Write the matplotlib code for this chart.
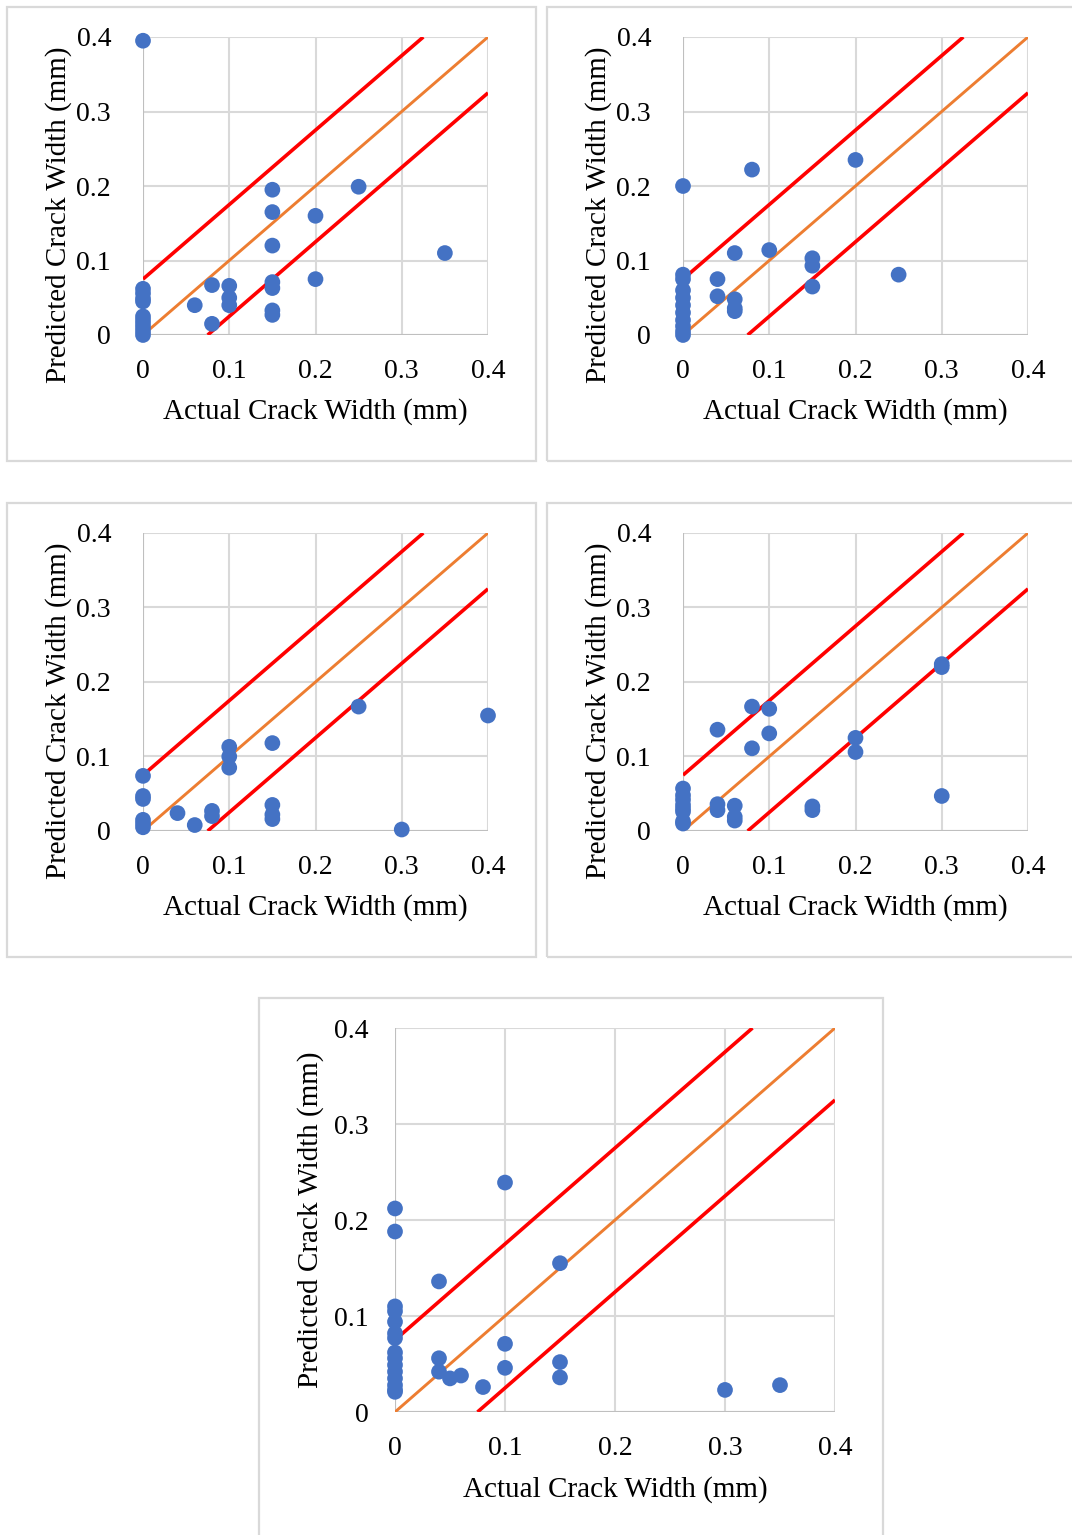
import matplotlib
matplotlib.use("Agg")
import matplotlib.pyplot as plt
from matplotlib.patches import Rectangle

plt.rcParams["font.family"] = ["Liberation Serif", "DejaVu Serif"]

# Actual vs predicted crack widths (mm) for five models
actual_1 = [0, 0, 0, 0, 0, 0, 0, 0, 0, 0, 0,
            0.06, 0.08, 0.08, 0.1, 0.1, 0.1,
            0.15, 0.15, 0.15, 0.15, 0.15, 0.15, 0.15,
            0.2, 0.2, 0.25, 0.35]
pred_1 = [0.395, 0.062, 0.056, 0.049, 0.045, 0.025, 0.02, 0.015, 0.01, 0.005, 0.0,
          0.040, 0.067, 0.015, 0.066, 0.050, 0.040,
          0.195, 0.165, 0.120, 0.071, 0.063, 0.033, 0.027,
          0.160, 0.075, 0.199, 0.110]

actual_2 = [0, 0, 0, 0, 0, 0, 0, 0, 0, 0, 0,
            0.04, 0.04, 0.06, 0.06, 0.06, 0.06,
            0.08, 0.1, 0.15, 0.15, 0.15, 0.2, 0.25]
pred_2 = [0.200, 0.081, 0.075, 0.060, 0.050, 0.040, 0.030, 0.020, 0.012, 0.005, 0.0,
          0.075, 0.052, 0.110, 0.048, 0.036, 0.032,
          0.222, 0.114, 0.103, 0.093, 0.065, 0.235, 0.081]

actual_3 = [0, 0, 0, 0, 0, 0,
            0.04, 0.06, 0.08, 0.08,
            0.1, 0.1, 0.1, 0.15, 0.15, 0.15, 0.15,
            0.25, 0.3, 0.4]
pred_3 = [0.074, 0.047, 0.043, 0.015, 0.010, 0.005,
          0.024, 0.008, 0.027, 0.020,
          0.113, 0.100, 0.085, 0.118, 0.035, 0.022, 0.016,
          0.167, 0.002, 0.155]

actual_4 = [0, 0, 0, 0, 0, 0, 0, 0,
            0.04, 0.04, 0.04, 0.06, 0.06, 0.06,
            0.08, 0.08, 0.1, 0.1, 0.15, 0.15,
            0.2, 0.2, 0.3, 0.3, 0.3]
pred_4 = [0.057, 0.048, 0.042, 0.035, 0.030, 0.026, 0.013, 0.010,
          0.136, 0.036, 0.028, 0.034, 0.019, 0.014,
          0.167, 0.111, 0.164, 0.131, 0.033, 0.028,
          0.125, 0.106, 0.224, 0.220, 0.047]

actual_5 = [0, 0, 0, 0, 0, 0, 0, 0, 0, 0, 0, 0, 0, 0, 0,
            0.04, 0.04, 0.04, 0.05, 0.06, 0.08,
            0.1, 0.1, 0.1, 0.15, 0.15, 0.15, 0.3, 0.35]
pred_5 = [0.212, 0.188, 0.110, 0.105, 0.094, 0.082, 0.077, 0.062, 0.056,
          0.049, 0.042, 0.035, 0.028, 0.023, 0.021,
          0.136, 0.056, 0.042, 0.035, 0.038, 0.026,
          0.239, 0.071, 0.046, 0.155, 0.052, 0.036, 0.023, 0.028]

ticks = [0, 0.1, 0.2, 0.3, 0.4]
tick_labels = ["0", "0.1", "0.2", "0.3", "0.4"]
band = 0.075  # +/- tolerance band around the line of equality

W, H = 1072, 1535
fig = plt.figure(figsize=(W / 100, H / 100), dpi=100)

BLUE = "#4472C4"
ORANGE = "#ED7D31"
RED = "#FF0000"
GRID = "#D9D9D9"


def frac(x0, y0, x1, y1):
    return [x0 / W, 1 - y1 / H, (x1 - x0) / W, (y1 - y0) / H]


def frame(x0, y0, x1, y1):
    fig.patches.append(Rectangle((x0 / W, 1 - y1 / H), (x1 - x0) / W, (y1 - y0) / H,
                                 transform=fig.transFigure, fill=False,
                                 edgecolor=GRID, linewidth=1.6))


def panel(rect, xs, ys, xlab_y, ylab_pos, ytick_pad):
    ax = fig.add_axes(frac(*rect))
    ax.set_xlim(0, 0.4)
    ax.set_ylim(0, 0.4)
    ax.set_xticks(ticks)
    ax.set_yticks(ticks)
    ax.set_xticklabels(tick_labels)
    ax.set_yticklabels(tick_labels)
    ax.tick_params(axis="both", length=0, labelsize=20, colors="black")
    ax.tick_params(axis="x", pad=17)
    ax.tick_params(axis="y", pad=ytick_pad)
    for s in ax.spines.values():
        s.set_visible(False)
    ax.grid(True, color=GRID, linewidth=1.5)
    ax.set_axisbelow(True)
    ax.axvline(0, color="#BFBFBF", linewidth=1.5, zorder=1)
    ax.axhline(0, color="#BFBFBF", linewidth=1.5, zorder=1)
    ax.plot([0, 0.4], [0, 0.4], color=ORANGE, linewidth=2.1, zorder=2,
            solid_capstyle="butt")
    ax.plot([0, 0.4 - band], [band, 0.4], color=RED, linewidth=2.6, zorder=2,
            solid_capstyle="butt")
    ax.plot([band, 0.4], [0, 0.4 - band], color=RED, linewidth=2.6, zorder=2,
            solid_capstyle="butt")
    ax.scatter(xs, ys, s=128, color=BLUE, edgecolors="none", zorder=3, clip_on=False)
    ax.set_xlabel("Actual Crack Width (mm)", fontsize=21)
    ax.set_ylabel("Predicted Crack Width (mm)", fontsize=21)
    ax.xaxis.set_label_coords(0.5, xlab_y)
    ax.yaxis.set_label_coords(ylab_pos[0], ylab_pos[1])
    return ax


# outer panel frames
frame(7, 7, 536, 461)
frame(547, 7, 1080, 461)
frame(7, 503, 536, 957)
frame(547, 503, 1080, 957)
frame(259, 998, 883, 1545)

panel((143, 37, 488, 335), actual_1, pred_1, -0.212, (-0.205, 0.403), 23)
panel((683, 37, 1028, 335), actual_2, pred_2, -0.212, (-0.205, 0.403), 23)
panel((143, 533, 488, 831), actual_3, pred_3, -0.212, (-0.205, 0.403), 23)
panel((683, 533, 1028, 831), actual_4, pred_4, -0.212, (-0.205, 0.403), 23)
panel((395, 1028, 835, 1412), actual_5, pred_5, -0.167, (-0.162, 0.5), 19)

fig.savefig("out.png", dpi=100, facecolor="white")
